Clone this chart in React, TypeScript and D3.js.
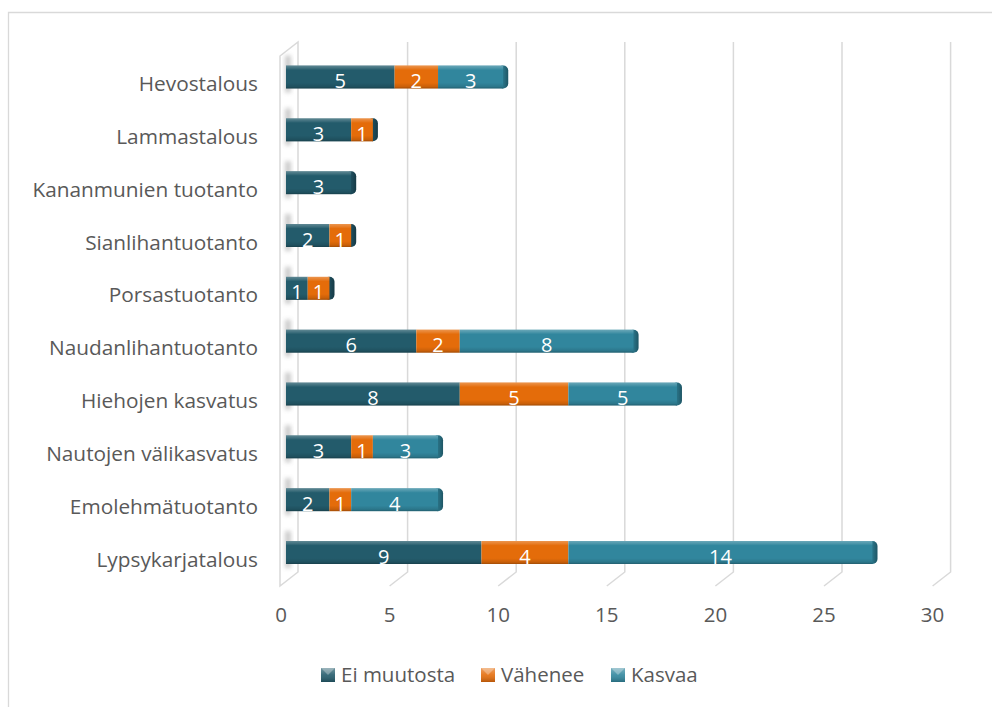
import React from "react";
import * as d3 from "d3";

const categories = [
  "Hevostalous",
  "Lammastalous",
  "Kananmunien tuotanto",
  "Sianlihantuotanto",
  "Porsastuotanto",
  "Naudanlihantuotanto",
  "Hiehojen kasvatus",
  "Nautojen välikasvatus",
  "Emolehmätuotanto",
  "Lypsykarjatalous",
];
const seriesNames = ["Ei muutosta", "Vähenee", "Kasvaa"];
const eiMuutosta = [5, 3, 3, 2, 1, 6, 8, 3, 2, 9];
const vahenee = [2, 1, 0, 1, 1, 2, 5, 1, 1, 4];
const kasvaa = [3, 0, 0, 0, 0, 8, 5, 3, 4, 14];
const xTicks = [0, 5, 10, 15, 20, 25, 30];
const colors = ["#235B6B", "#E46C0A", "#31869D"];
const capColors = ["#1F5262", "#1F5262", "#2C7A8F"];

const W = 992;
const H = 707;
const FONT = "'Open Sans', 'Noto Sans', sans-serif";
const TXT = "#595959";

export default function App() {
  const x = d3.scaleLinear().domain([0, 30]).range([286, 937.6]);
  const y = d3.scalePoint<string>().domain(categories).range([77, 552.5]);
  const barH = 23;
  const depthDy = 14;
  const backOff = 13;
  const frontOff = -5;
  const gridTop = 42;
  const gridBottom = 572;

  const stackData = categories.map((c, i) => {
    const vals = [eiMuutosta[i], vahenee[i], kasvaa[i]];
    let acc = 0;
    const segs = vals.map((v, s) => {
      const seg = { s, v, x0: acc, x1: acc + v };
      acc += v;
      return seg;
    });
    const nonZero = segs.filter((sg) => sg.v > 0);
    return { c, segs, total: acc, last: nonZero[nonZero.length - 1].s };
  });

  const wallFrontX = x(0) + frontOff - 1;
  const wallBackX = x(0) + backOff - 1;

  return (
    <svg
      width={W}
      height={H}
      style={{ position: "absolute", left: 0, top: 0, background: "#fff" }}
      fontFamily={FONT}
    >
      <defs>
        <linearGradient id="shade" x1="0" y1="0" x2="0" y2="1">
          <stop offset="0" stopColor="#ffffff" stopOpacity="0.28" />
          <stop offset="0.12" stopColor="#ffffff" stopOpacity="0.12" />
          <stop offset="0.2" stopColor="#ffffff" stopOpacity="0.0" />
          <stop offset="0.75" stopColor="#000000" stopOpacity="0.0" />
          <stop offset="0.92" stopColor="#000000" stopOpacity="0.12" />
          <stop offset="1" stopColor="#000000" stopOpacity="0.3" />
        </linearGradient>
        <linearGradient id="capShade" x1="0" y1="0" x2="1" y2="0">
          <stop offset="0" stopColor="#000000" stopOpacity="0.0" />
          <stop offset="0.6" stopColor="#000000" stopOpacity="0.1" />
          <stop offset="1" stopColor="#000000" stopOpacity="0.3" />
        </linearGradient>
        <filter id="blur" x="-50%" y="-50%" width="200%" height="200%">
          <feGaussianBlur stdDeviation="2.2" />
        </filter>
        <linearGradient id="legShade" x1="0" y1="0" x2="0" y2="1">
          <stop offset="0" stopColor="#ffffff" stopOpacity="0.35" />
          <stop offset="0.5" stopColor="#ffffff" stopOpacity="0.1" />
          <stop offset="1" stopColor="#000000" stopOpacity="0.2" />
        </linearGradient>
      </defs>

      <path d={`M8.5,${H} L8.5,12.5 L${W},12.5`} fill="none" stroke="#d9d9d9" strokeWidth={1.3} />

      <path
        d={`M${wallFrontX},${gridTop + depthDy} L${wallBackX},${gridTop} L${wallBackX},${gridBottom} L${wallFrontX},${gridBottom + depthDy} Z`}
        fill="#ffffff"
        stroke="#d9d9d9"
        strokeWidth={1.5}
      />
      {stackData.map((d) => (
        <rect
          key={"sh" + d.c}
          x={x(0) - 1}
          y={(y(d.c) as number) - barH / 2 - 10}
          width={6}
          height={barH + 14}
          fill="#8c8c8c"
          opacity={0.45}
          filter="url(#blur)"
        />
      ))}

      {xTicks.slice(1).map((t) => (
        <path
          key={"g" + t}
          d={`M${x(t) + backOff},${gridTop} L${x(t) + backOff},${gridBottom} L${x(t) + frontOff},${gridBottom + depthDy}`}
          fill="none"
          stroke="#d9d9d9"
          strokeWidth={1.5}
        />
      ))}

      {stackData.map((d) => {
        const cy = y(d.c) as number;
        const top = cy - barH / 2;
        const xEnd = x(d.total);
        return (
          <g key={"b" + d.c}>
            <rect x={xEnd - 5} y={top} width={10} height={barH} rx={5} ry={5} fill={capColors[d.last]} />
            <rect x={xEnd - 5} y={top} width={10} height={barH} rx={5} ry={5} fill="url(#capShade)" />
            {d.segs
              .filter((sg) => sg.v > 0)
              .map((sg) => (
                <rect
                  key={sg.s}
                  x={x(sg.x0)}
                  y={top}
                  width={x(sg.x1) - x(sg.x0)}
                  height={barH}
                  fill={colors[sg.s]}
                />
              ))}
            <rect x={x(0)} y={top} width={xEnd - x(0)} height={barH} fill="url(#shade)" />
            {d.segs
              .filter((sg) => sg.v > 0)
              .map((sg) => (
                <text
                  key={"t" + sg.s}
                  x={(x(sg.x0) + x(sg.x1)) / 2}
                  y={cy + 11}
                  textAnchor="middle"
                  fontSize={20}
                  fill="#ffffff"
                >
                  {sg.v}
                </text>
              ))}
          </g>
        );
      })}

      {categories.map((c) => (
        <text
          key={"c" + c}
          x={258}
          y={(y(c) as number) + 14}
          textAnchor="end"
          fontSize={20.8}
          fill={TXT}
        >
          {c}
        </text>
      ))}

      {xTicks.map((t) => (
        <text
          key={"x" + t}
          x={x(t) + frontOff}
          y={622}
          textAnchor="middle"
          fontSize={20.5}
          fill={TXT}
        >
          {t}
        </text>
      ))}

      {seriesNames.map((n, i) => {
        const lx = [321, 481, 611][i];
        return (
          <g key={"l" + n}>
            <rect x={lx} y={668} width={14} height={14} fill={colors[i]} />
            <path d={`M${lx},668 L${lx + 14},668 L${lx + 7},675 Z`} fill="#ffffff" opacity={0.3} />
            <rect x={lx} y={668} width={14} height={14} fill="url(#legShade)" />
            <text x={lx + 20} y={682} fontSize={20.5} fill={TXT}>
              {n}
            </text>
          </g>
        );
      })}
    </svg>
  );
}
